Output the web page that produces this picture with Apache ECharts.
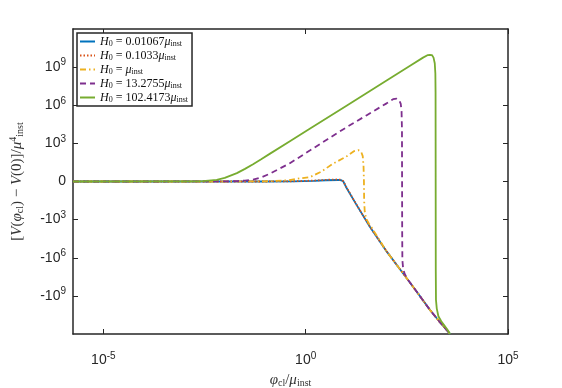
<!DOCTYPE html>
<html>
<head>
<meta charset="utf-8">
<script src="https://cdn.jsdelivr.net/npm/echarts@6/dist/echarts.min.js"></script>
<style>
  html, body { margin: 0; padding: 0; background: #fff; }
  #chart { width: 562px; height: 388px; }
</style>
</head>
<body>
<div id="chart"></div>
<script>
// legend names, one per curve
const seriesNames = [
  'H0 = 0.01067 μinst',
  'H0 = 0.1033 μinst',
  'H0 = μinst',
  'H0 = 13.2755 μinst',
  'H0 = 102.4173 μinst'
]
const legendLabels = [
  '{i|H}{s|0} = 0.01067{i|μ}{s|inst}',
  '{i|H}{s|0} = 0.1033{i|μ}{s|inst}',
  '{i|H}{s|0} = {i|μ}{s|inst}',
  '{i|H}{s|0} = 13.2755{i|μ}{s|inst}',
  '{i|H}{s|0} = 102.4173{i|μ}{s|inst}'
]

// x values are log10(φcl/μinst), y values are V(φcl) - V(0) in μinst^4
const lgPhiBlue = [-5.75, -1.0, -0.3, 0.2, 0.5, 0.8, 0.88, 0.93, 1.0, 1.25, 1.59, 2.0, 2.4, 2.75, 3.07, 3.3, 3.57]
const vBlue = [0, 0, 0.023, 0.122, 0.259, 0.318, 0.259, 0, -1.82, -62, -3800, -3.16e5, -1.58e7, -5.0e8, -1.26e10, -1.0e11, -1.0e12]

const lgPhiRed = [-5.75, -1.0, -0.3, 0.2, 0.5, 0.8, 0.88, 0.93, 1.0, 1.25, 1.59, 2.0, 2.4, 2.75, 3.07, 3.3, 3.57]
const vRed = [0, 0, 0.047, 0.175, 0.35, 0.445, 0.38, 0.047, -1.6, -60, -3700, -3.1e5, -1.58e7, -5.0e8, -1.26e10, -1.0e11, -1.0e12]

const lgPhiYellow = [-5.75, -2.0, -0.9, -0.4, -0.14, 0.11, 0.4, 0.67, 1.0, 1.2, 1.3, 1.37, 1.41, 1.43, 1.44, 1.445, 1.46, 1.5, 1.56, 1.63, 2.0, 2.4, 2.75, 3.07, 3.3, 3.57]
const vYellow = [0, 0, 0.047, 0.259, 0.778, 1.24, 5.31, 24, 88, 250, 294, 223, 99, 14.8, 0, -30.6, -250, -890, -1994, -4168, -3.16e5, -1.58e7, -5.0e8, -1.26e10, -1.0e11, -1.0e12]

const lgPhiPurple = [-5.75, -2.2, -1.7, -1.5, -1.3, -1.1, -0.88, -0.4, 0.11, 0.55, 1.0, 1.5, 2.0, 2.16, 2.25, 2.31, 2.35, 2.37, 2.38, 2.385, 2.39, 2.41, 2.45, 2.52, 2.75, 3.07, 3.3, 3.57]
const vPurple = [0, 0.007, 0.064, 0.17, 0.4, 1.1, 3.17, 25.3, 281, 2239, 1.78e4, 1.58e5, 1.41e6, 3.02e6, 3.31e6, 2.51e6, 1.26e6, 3.16e5, 1e4, -1e4, -1.58e6, -7.94e6, -2.0e7, -5.0e7, -5.0e8, -1.26e10, -1.0e11, -1.0e12]

const lgPhiGreen = [-5.75, -3.2, -2.8, -2.54, -2.2, -2.0, -1.7, -1.5, -1.3, -1.1, -0.88, -0.39, 0.11, 1.0, 2.0, 2.6, 2.9, 3.02, 3.07, 3.12, 3.16, 3.19, 3.205, 3.21, 3.215, 3.22, 3.24, 3.28, 3.35, 3.42, 3.5, 3.57]
const vGreen = [0, 0.006, 0.022, 0.08, 0.35, 0.9, 3.6, 8.9, 22, 56, 155, 1480, 1.48e4, 8.9e5, 8.9e7, 1.41e9, 5.6e9, 8.9e9, 9.1e9, 8.9e9, 5.6e9, 2.0e9, 3.16e8, 1e7, -1e7, -2.09e9, -1e10, -3.98e10, -1.0e11, -1.95e11, -4.47e11, -1.0e12]

const xTickExp = [-5, 0, 5]
const yTickExp = [-9, -6, -3, 0, 3, 6, 9]

const colors = ['#0072BD', '#D95319', '#EDB120', '#7E2F8E', '#77AC30']
const dashes = ['solid', [1.5, 2], [6, 3, 1.5, 3], [6, 4], 'solid']

function symlog(v) {
  return Math.sign(v) * Math.log10(1 + Math.abs(v))
}

const curves = [
  { x: lgPhiBlue, v: vBlue },
  { x: lgPhiRed, v: vRed },
  { x: lgPhiYellow, v: vYellow },
  { x: lgPhiPurple, v: vPurple },
  { x: lgPhiGreen, v: vGreen }
]

const tickFont = 'Liberation Sans, Arial, sans-serif'
const mathFont = 'Liberation Serif, Times New Roman, serif'
const ink = '#262626'

const numRich = {
  b: { fontFamily: tickFont, fontSize: 14, color: ink },
  p: { fontFamily: tickFont, fontSize: 10, color: ink, padding: [0, 0, 9, 0] }
}
const mathRich = {
  t: { fontFamily: mathFont, fontSize: 15, color: '#333' },
  i: { fontFamily: mathFont, fontSize: 15, fontStyle: 'italic', color: '#333' },
  s: { fontFamily: mathFont, fontSize: 10, color: '#333', padding: [7, 0, 0, 0] },
  p: { fontFamily: mathFont, fontSize: 10, color: '#333', padding: [0, 0, 8, 0] }
}

// x labels: exponent of ten as is
function xLabel(v) {
  return '{b|10}{p|' + v + '}'
}
// y labels: symmetric log, sign in front of the power
function yLabel(v) {
  if (v === 0) return '{b|0}'
  return '{b|' + (v < 0 ? '-' : '') + '10}{p|' + Math.abs(v) + '}'
}

const chart = echarts.init(document.getElementById('chart'))

const frameAxis = {
  axisLine: { show: true, onZero: false, lineStyle: { color: ink, width: 1.5 } },
  splitLine: { show: false }
}

chart.setOption({
  animation: false,
  grid: { left: 73, right: 54, top: 29, bottom: 54, containLabel: false, outerBoundsMode: 'none' },
  legend: {
    orient: 'vertical',
    left: 77,
    top: 33,
    itemWidth: 15,
    itemHeight: 10,
    itemGap: 1,
    padding: [2, 4, 2, 2],
    borderColor: ink,
    borderWidth: 1.5,
    backgroundColor: '#fff',
    data: seriesNames,
    itemStyle: { opacity: 0 },
    formatter: name => legendLabels[seriesNames.indexOf(name)],
    textStyle: {
      fontFamily: mathFont,
      fontSize: 12,
      lineHeight: 13,
      color: '#111',
      rich: {
        i: { fontFamily: mathFont, fontSize: 12, fontStyle: 'italic', color: '#111' },
        s: { fontFamily: mathFont, fontSize: 8, color: '#111', padding: [5, 0, 0, 0] }
      }
    }
  },
  xAxis: [
    Object.assign({}, frameAxis, {
      type: 'value',
      position: 'bottom',
      min: -5.75,
      max: 5,
      axisTick: { inside: true, length: 5, customValues: xTickExp, lineStyle: { color: ink } },
      axisLabel: {
        margin: 17,
        customValues: xTickExp,
        formatter: xLabel,
        rich: numRich
      },
      name: '{i|φ}{s|cl}{t|/}{i|μ}{s|inst}',
      nameLocation: 'middle',
      nameGap: 36,
      nameTextStyle: { rich: mathRich }
    }),
    Object.assign({}, frameAxis, {
      type: 'value',
      position: 'top',
      min: -5.75,
      max: 5,
      axisTick: { inside: true, length: 5, customValues: xTickExp, lineStyle: { color: ink } },
      axisLabel: { show: false }
    })
  ],
  yAxis: [
    Object.assign({}, frameAxis, {
      type: 'value',
      position: 'left',
      min: -12,
      max: 12,
      interval: 3,
      axisTick: { inside: true, length: 5, customValues: yTickExp, lineStyle: { color: ink } },
      axisLabel: {
        margin: 7,
        customValues: yTickExp,
        formatter: yLabel,
        rich: numRich
      },
      name: '{t|[}{i|V}{t|(}{i|φ}{s|cl}{t|) − }{i|V}{t|(0)]/}{i|μ}{p|4}{s|inst}',
      nameLocation: 'middle',
      nameGap: 47,
      nameTextStyle: { rich: mathRich }
    }),
    Object.assign({}, frameAxis, {
      type: 'value',
      position: 'right',
      min: -12,
      max: 12,
      interval: 3,
      axisTick: { inside: true, length: 5, customValues: yTickExp, lineStyle: { color: ink } },
      axisLabel: { show: false }
    })
  ],
  series: curves.map((c, i) => ({
    name: seriesNames[i],
    type: 'line',
    symbol: 'none',
    clip: true,
    z: 2 + i,
    data: c.x.map((x, j) => [x, symlog(c.v[j])]),
    itemStyle: { color: colors[i] },
    lineStyle: { color: colors[i], width: 1.8, type: dashes[i] }
  }))
})
</script>
</body>
</html>
